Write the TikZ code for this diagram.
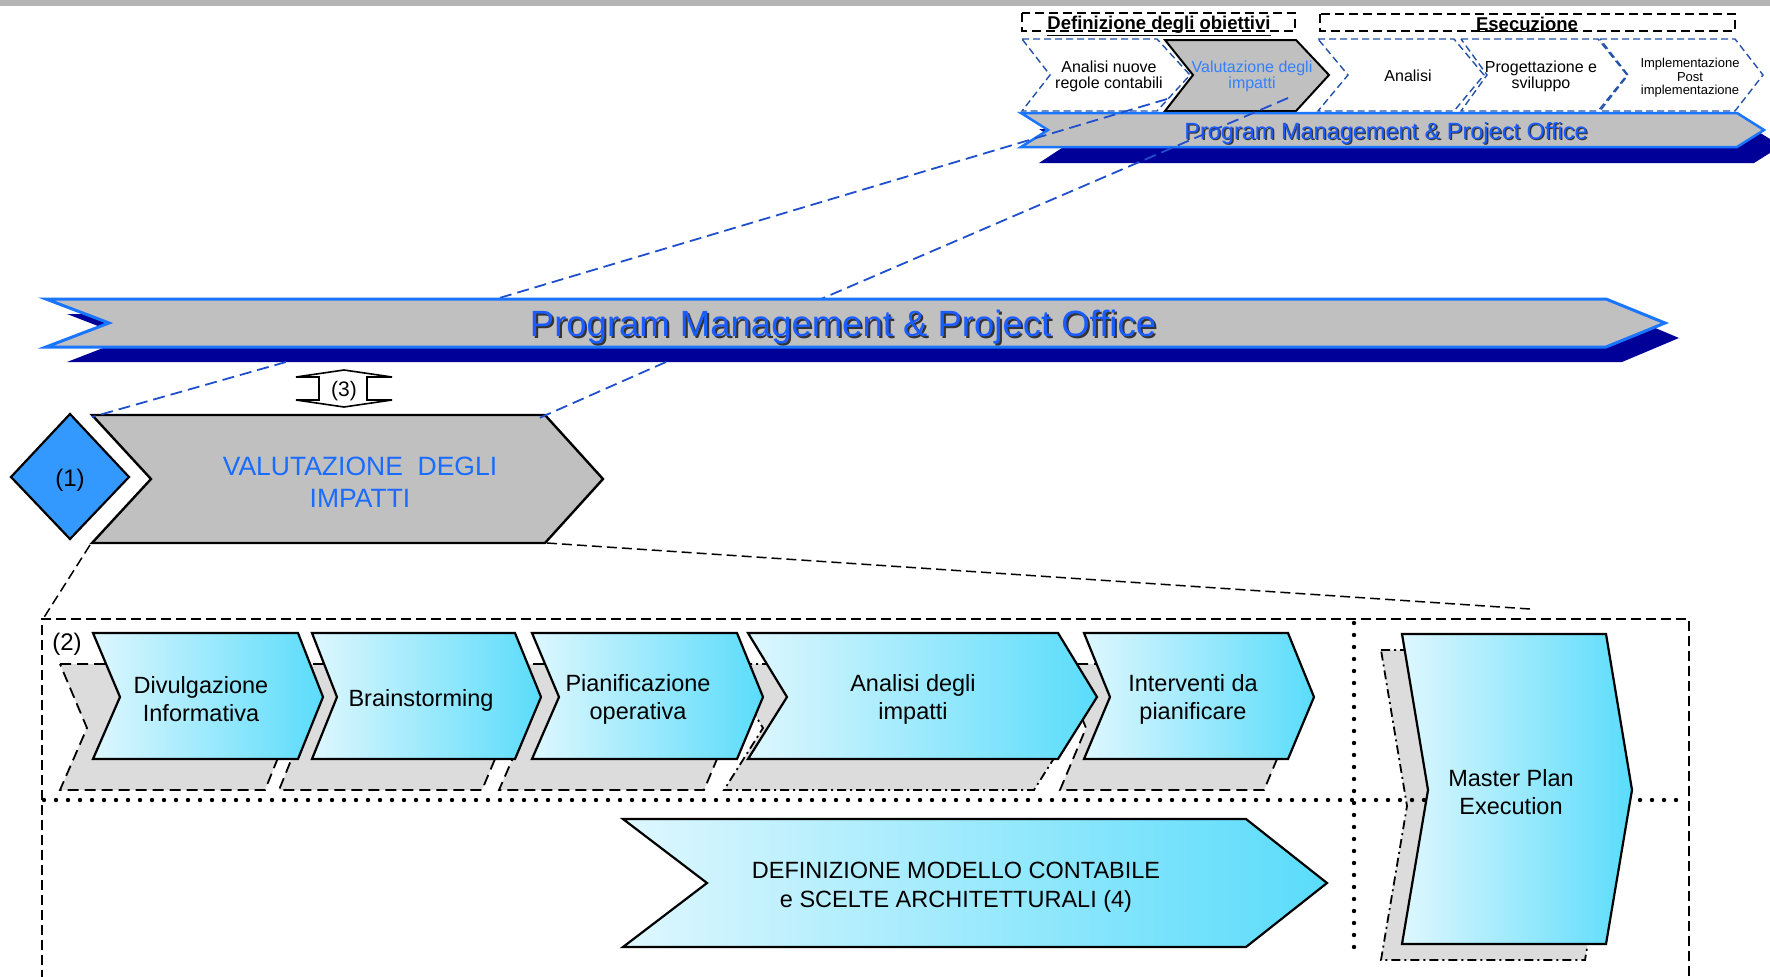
\documentclass[tikz,border=0pt]{standalone}
\usepackage{fontspec}
\setmainfont{Liberation Sans}
\definecolor{gbar}{HTML}{B4B4B4}
\definecolor{bgray}{HTML}{C0C0C0}
\definecolor{bannerline}{HTML}{1A75FF}
\definecolor{dkblue}{HTML}{000099}
\definecolor{projblue}{HTML}{1F4FCC}
\definecolor{bnrtxt}{HTML}{1A5CFF}
\definecolor{vtxt}{HTML}{1A6BFF}
\definecolor{ctxt}{HTML}{3380FF}
\definecolor{dashblue}{HTML}{2452A8}
\definecolor{cyanL}{HTML}{DEF7FE}
\definecolor{cyanR}{HTML}{5ADCFB}
\definecolor{shgray}{HTML}{DCDCDC}
\definecolor{diablue}{HTML}{3399FF}
\newcommand\fsz[2]{\fontsize{#1}{#2}\selectfont}
\begin{document}
\begin{tikzpicture}[x=1pt,y=-1pt,line join=miter,
  hdrbox/.style={draw=black,line width=1.5pt,dash pattern=on 9pt off 5pt},
  hdrtxt/.style={anchor=base,inner sep=0pt,font=\bfseries\fsz{18.5}{20}},
  topchev/.style={draw=dashblue,line width=1.4pt,dash pattern=on 7pt off 4pt,fill=white},
  graychev/.style={draw=black,line width=2pt,fill=bgray},
  tl/.style={align=center,inner sep=0pt,font=\fsz{16}{16}},
  tlsmall/.style={align=center,inner sep=0pt,font=\fsz{13}{13.5}},
  banner/.style={draw=bannerline,line width=3pt,fill=bgray},
  bshadow/.style={fill=dkblue},
  proj/.style={draw=projblue,line width=1.8pt,dash pattern=on 12pt off 6pt},
  blkdash/.style={draw=black,line width=1.5pt,dash pattern=on 10pt off 5pt},
  dotline/.style={draw=black,line width=4.4pt,line cap=round,dash pattern=on 0pt off 12pt},
  cychev/.style={draw=black,line width=2.2pt,left color=cyanL,right color=cyanR},
  cyshadow/.style={draw=black,line width=1.8pt,fill=shgray,dash pattern=on 11pt off 6pt},
  cyshadowdd/.style={draw=black,line width=1.8pt,fill=shgray,dash pattern=on 9pt off 4pt on 2pt off 4pt},
  lbl/.style={align=center,inner sep=0pt,font=\fsz{23.5}{28}}]
\useasboundingbox (0,0) rectangle (1770,977);
\fill[gbar] (0,0) rectangle (1770,5.5);

% header boxes
\draw[hdrbox] (1022,13) rectangle (1295,31);
\node[hdrtxt] (hdef) at (1159,29.5) {\underline{Definizione degli obiettivi}};
\draw[hdrbox] (1320,14) rectangle (1735,31);
\node[hdrtxt] (hese) at (1527,30) {\underline{Esecuzione}};

% top chevrons
\draw[topchev] (1022,39) -- (1157,39) -- (1190,75) -- (1157,111) -- (1022,111) -- (1050,75) -- cycle;
\node[tl] (t1) at (1109,76) {Analisi nuove\\regole contabili};
\draw[graychev] (1165,40) -- (1296,40) -- (1329,75) -- (1296,111) -- (1165,111) -- (1193,75) -- cycle;
\node[tl,text=ctxt] (t2) at (1252,76) {Valutazione degli\\impatti};
\draw[topchev] (1318,39) -- (1454,39) -- (1484,75) -- (1454,111) -- (1318,111) -- (1348,75) -- cycle;
\node[tl] (t3) at (1408,75.5) {Analisi};
\draw[topchev] (1461,39) -- (1598,39) -- (1627,75) -- (1598,111) -- (1461,111) -- (1487,75) -- cycle;
\node[tl] (t4) at (1541,76) {Progettazione e\\sviluppo};
\draw[topchev] (1600,39) -- (1735,39) -- (1763,75) -- (1735,111) -- (1600,111) -- (1628,75) -- cycle;
\node[tlsmall] (t5) at (1690,78) {Implementazione\\Post\\implementazione};

% top banner
\fill[bshadow] (1039,129) -- (1065,146) -- (1039,163) -- (1754,163) -- (1781,146) -- (1754,129) -- cycle;
\draw[banner,line width=2.5pt] (1021,113) -- (1737,113) -- (1764,130) -- (1737,147) -- (1021,147) -- (1048,130) -- cycle;
\node[inner sep=0pt,font=\fsz{23.5}{24},text=black!80] (tbts) at (1387.3,134.3) {Program Management \& Project Office};
\node[inner sep=0pt,font=\fsz{23.5}{24},text=bnrtxt] (tbt) at (1386,133) {Program Management \& Project Office};

% projection lines top -> big banner
\coordinate (pA1) at (1167,99);
\coordinate (pA2) at (496,299);
\coordinate (pB1) at (1288,98);
\coordinate (pB2) at (821,299);
\draw[proj] (pA1) -- (pA2);
\draw[proj] (pB1) -- (pB2);

% big banner
\fill[bshadow] (67,314) -- (129,338) -- (67,362) -- (1622,362) -- (1679,338) -- (1622,314) -- cycle;
\draw[banner] (46,299) -- (1606,299) -- (1665,323) -- (1606,347) -- (46,347) -- (109,323) -- cycle;
\node[inner sep=0pt,font=\fsz{36.5}{38},text=black!80] (bbts) at (845,329) {Program Management \& Project Office};
\node[inner sep=0pt,font=\fsz{36.5}{38},text=bnrtxt] (bbt) at (843,327) {Program Management \& Project Office};

% (3) double arrow
\draw[fill=white,line width=1.6pt] (296,377) -- (344,370) -- (392,377) -- (367,377) -- (367,400) -- (392,400) -- (344,407) -- (296,400) -- (319,400) -- (319,377) -- cycle;
\node[inner sep=0pt,font=\fsz{21}{22}] (a3) at (344,391) {(3)};

% diamond (1) and VALUTAZIONE
\draw[fill=diablue,line width=2.2pt] (11,477) -- (70,414) -- (129,477) -- (70,539) -- cycle;
\node[inner sep=0pt,font=\fsz{24}{26}] (d1) at (70,480) {(1)};
\draw[graychev,line width=2.4pt] (92,415) -- (545,415) -- (603,479) -- (545,543) -- (92,543) -- (151,479) -- cycle;
\node[align=center,inner sep=0pt,font=\fsz{26.5}{32},text=vtxt] (vi) at (360,482) {VALUTAZIONE\ \ DEGLI\\IMPATTI};

% projection lines big banner -> VALUTAZIONE
\coordinate (pC1) at (286,362);
\coordinate (pC2) at (92,417);
\coordinate (pD1) at (666,362);
\coordinate (pD2) at (537,419);
\draw[proj] (pC1) -- (pC2);
\draw[proj] (pD1) -- (pD2);

% black dashed zoom lines and frame
\coordinate (vbr) at (547,543);
\coordinate (zr) at (1530,609);
\coordinate (vbl) at (90,545);
\coordinate (zl) at (43,619);
\draw[blkdash] (vbr) -- (zr);
\draw[blkdash] (vbl) -- (zl);
\draw[blkdash] (42,995) -- (42,619) -- (1689,619) -- (1689,995);
\node[inner sep=0pt,font=\fsz{24}{26}] (l2) at (67,644) {(2)};

% shadows of lower chevrons
\begin{scope}[shift={(-33,31)}]
\draw[cyshadow] (93,633) -- (298,633) -- (323,697) -- (298,759) -- (93,759) -- (120,697) -- cycle;
\draw[cyshadow] (312,633) -- (515,633) -- (541,697) -- (515,759) -- (312,759) -- (337,697) -- cycle;
\draw[cyshadow] (532,633) -- (737,633) -- (763,697) -- (737,759) -- (532,759) -- (559,697) -- cycle;
\end{scope}
\begin{scope}[shift={(-24,31)}]
\draw[cyshadowdd] (748,633) -- (1058,633) -- (1097,697) -- (1058,759) -- (748,759) -- (787,697) -- cycle;
\draw[cyshadow] (1084,633) -- (1288,633) -- (1314,697) -- (1288,759) -- (1084,759) -- (1110,697) -- cycle;
\end{scope}
\begin{scope}[shift={(-21,16)}]
\draw[cyshadowdd] (1402,634) -- (1606,634) -- (1632,790) -- (1606,944) -- (1402,944) -- (1428,790) -- cycle;
\end{scope}

% dotted separators
\draw[dotline] (44,800) -- (1680,800);
\draw[dotline] (1354,623) -- (1354,955);

% lower chevrons
\draw[cychev] (93,633) -- (298,633) -- (323,697) -- (298,759) -- (93,759) -- (120,697) -- cycle;
\node[lbl] (c1) at (201,699) {Divulgazione\\Informativa};
\draw[cychev] (312,633) -- (515,633) -- (541,697) -- (515,759) -- (312,759) -- (337,697) -- cycle;
\node[lbl] (c2) at (421,700) {Brainstorming};
\draw[cychev] (532,633) -- (737,633) -- (763,697) -- (737,759) -- (532,759) -- (559,697) -- cycle;
\node[lbl] (c3) at (638,699) {Pianificazione\\operativa};
\draw[cychev] (748,633) -- (1058,633) -- (1097,697) -- (1058,759) -- (748,759) -- (787,697) -- cycle;
\node[lbl] (c4) at (913,699) {Analisi degli\\impatti};
\draw[cychev] (1084,633) -- (1288,633) -- (1314,697) -- (1288,759) -- (1084,759) -- (1110,697) -- cycle;
\node[lbl] (c5) at (1193,699) {Interventi da\\pianificare};

% master plan
\draw[cychev] (1402,634) -- (1606,634) -- (1632,790) -- (1606,944) -- (1402,944) -- (1428,790) -- cycle;
\node[lbl] (mp) at (1511,792) {Master Plan\\Execution};

% definizione modello
\draw[cychev] (623,819) -- (1246,819) -- (1327,883) -- (1246,947) -- (623,947) -- (707,883) -- cycle;
\node[align=center,inner sep=0pt,font=\fsz{23.5}{29.5}] (dm) at (956,887) {DEFINIZIONE MODELLO CONTABILE\\e SCELTE ARCHITETTURALI (4)};
\end{tikzpicture}
\end{document}
